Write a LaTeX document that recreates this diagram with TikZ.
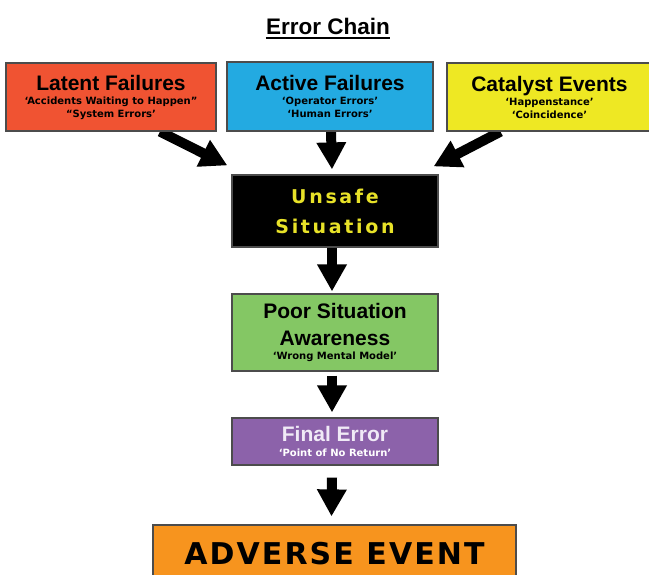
\documentclass[tikz,border=0pt]{standalone}
\usepackage{fontspec}
\setmainfont{Liberation Sans}
\newfontfamily\notefont{DejaVu Sans}
\newfontfamily\unsafefont{DejaVu Sans}[LetterSpace=14]
\newfontfamily\adversefont{DejaVu Sans}[LetterSpace=7]
\usetikzlibrary{arrows.meta,backgrounds}

\definecolor{latentred}{RGB}{240,83,50}
\definecolor{activeblue}{RGB}{35,170,225}
\definecolor{catalystyellow}{RGB}{238,232,35}
\definecolor{poorgreen}{RGB}{132,199,100}
\definecolor{finalpurple}{RGB}{140,98,170}
\definecolor{adverseorange}{RGB}{247,148,30}
\definecolor{unsafeyellow}{RGB}{232,226,40}
\definecolor{finallilac}{RGB}{240,234,246}

\newcommand\headtext[1]{{\fontsize{21}{21}\selectfont\bfseries #1}}
\newcommand\notetext[1]{{\notefont\bfseries\fontsize{10}{13}\selectfont #1}}

\begin{document}
\begin{tikzpicture}[x=1pt, y=-1pt,
    box_style/.style={draw=black!70, line width=1.2pt, inner sep=0pt, align=center, font=\fontsize{10}{13}\selectfont},
    title_style/.style={inner sep=0pt, font=\fontsize{22.5}{22.5}\selectfont\bfseries},
    arrow_style/.style={-{Triangle[width=28pt,length=27pt]}, line width=10pt, black}]
  \useasboundingbox (0,0) rectangle (649,574);
  \clip (0,0) rectangle (649,574);

  % title
  \node[title_style, anchor=base] (title) at (328,34) {Error Chain};
  \draw[line width=2pt] ([yshift=-3.7pt]title.base west) -- ([yshift=-3.7pt]title.base east);

  % causes
  \draw
    (111,97) node[box_style, fill=latentred, minimum width=210pt, minimum height=68pt] (latent)
      {\headtext{Latent Failures}\\[1pt] \notetext{‘Accidents Waiting to Happen”}\\ \notetext{“System Errors’}}
    (330,96.5) node[box_style, fill=activeblue, minimum width=206pt, minimum height=69pt] (active)
      {\headtext{Active Failures}\\[1pt] \notetext{‘Operator Errors’}\\ \notetext{‘Human Errors’}}
    (549.5,97) node[box_style, fill=catalystyellow, minimum width=205pt, minimum height=68pt] (catalyst)
      {\headtext{Catalyst Events}\\[1pt] \notetext{‘Happenstance’}\\ \notetext{‘Coincidence’}};

  % chain
  \draw
    (335,211) node[box_style, fill=black, minimum width=206pt, minimum height=72pt,
      font=\unsafefont\bfseries\fontsize{19}{30}\selectfont, text=unsafeyellow] (unsafe)
      {Unsafe\\Situation}
    (335,332.5) node[box_style, fill=poorgreen, minimum width=206pt, minimum height=77pt] (poor)
      {\headtext{Poor Situation}\\[12pt] \headtext{Awareness}\\[1pt] \notetext{‘Wrong Mental Model’}}
    (335,441.5) node[box_style, fill=finalpurple, minimum width=206pt, minimum height=47pt] (final)
      {\textcolor{finallilac}{\headtext{Final Error}}\\[2pt] \textcolor{white}{\notetext{‘Point of No Return’}}}
    (334.5,554) node[box_style, fill=adverseorange, minimum width=363pt, minimum height=58pt,
      font=\adversefont\bfseries\fontsize{30}{30}\selectfont] (adverse)
      {ADVERSE EVENT};

  \begin{scope}[on background layer]
    \draw[arrow_style] ([shift={(49,0)}]latent.south) -- ([shift={(-4,-9)}]unsafe.north west);
    \draw[arrow_style] ([shift={(1,0)}]active.south) -- ([shift={(-3,-5)}]unsafe.north);
    \draw[arrow_style] ([shift={(-49,0)}]catalyst.south) -- ([shift={(-5,-8)}]unsafe.north east);
    \draw[arrow_style] ([shift={(-3,0)}]unsafe.south) -- ([shift={(-3,-2)}]poor.north);
    \draw[arrow_style] ([shift={(-3,4)}]poor.south) -- ([shift={(-3,-5)}]final.north);
    \draw[arrow_style] ([shift={(-3,12)}]final.south) -- ([shift={(-3,-8)}]adverse.north);
  \end{scope}
\end{tikzpicture}
\end{document}
